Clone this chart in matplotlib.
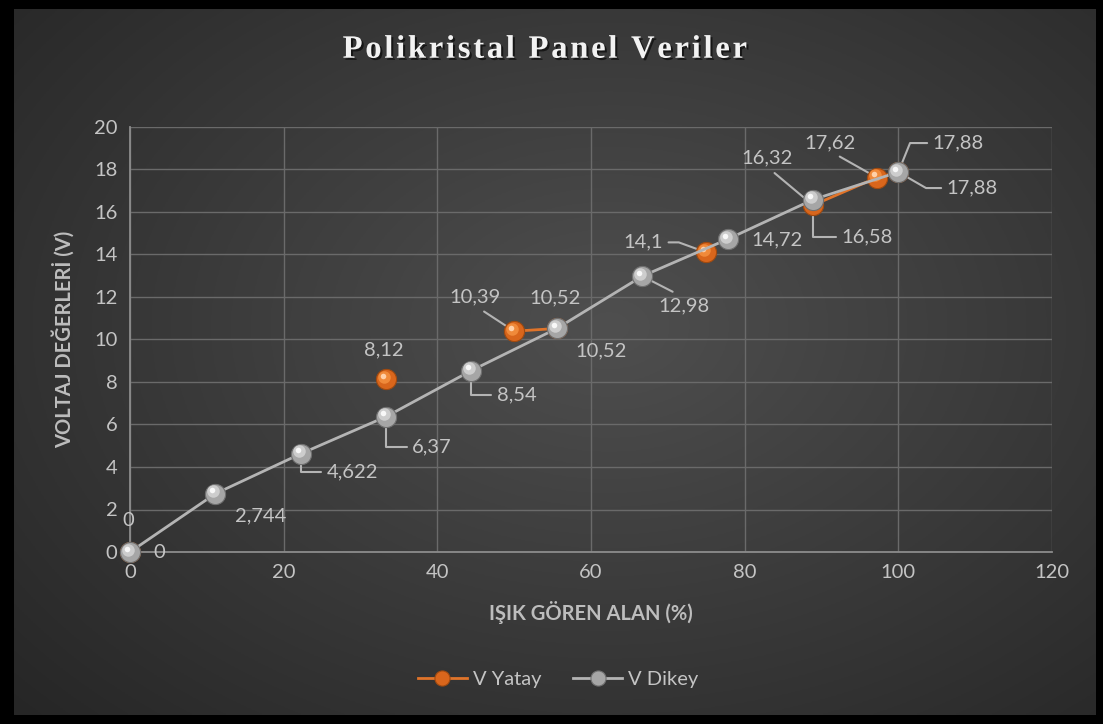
import matplotlib.pyplot as plt
import matplotlib.transforms as mtransforms
import matplotlib.patheffects as pe
import numpy as np

nan = np.nan

# V Dikey (gray)
x_dikey = [0, 11.11, 22.22, 33.33, 44.44, 55.56, 66.67, 77.78, 88.89, 100]
v_dikey = [0, 2.744, 4.622, 6.37, 8.54, 10.52, 12.98, 14.72, 16.58, 17.88]

# V Yatay (orange), gaps where excel had blank cells
x_yatay = [0, nan, 33.33, nan, 50, 55.56, nan, 75, nan, 88.89, 97.22, 100]
v_yatay = [0, nan, 8.12, nan, 10.39, 10.52, nan, 14.1, nan, 16.32, 17.62, 17.88]

x_ticks = [0, 20, 40, 60, 80, 100, 120]
y_ticks = [0, 2, 4, 6, 8, 10, 12, 14, 16, 18, 20]

plt.rcParams['font.family'] = ['Lato', 'DejaVu Sans']
txt_col = '#c4c4c4'
fs = 14.5

fig = plt.figure(figsize=(11.03, 7.24), dpi=100, facecolor='black')

# background with radial gradient
bg = fig.add_axes([14/1103, 9/724, 1082/1103, 706/724])
bg.axis('off')
gx, gy = np.meshgrid(np.linspace(0, 1, 400), np.linspace(0, 1, 300))
r = np.sqrt(((gx - 0.55) / 0.75)**2 + ((gy - 0.45) / 0.8)**2)
r = np.clip(r, 0, 1)
shade = 0.31 - 0.16 * r
bg.imshow(np.dstack([shade, shade, shade]), aspect='auto', extent=[0, 1, 0, 1], origin='upper')
bg.set_xlim(0, 1)
bg.set_ylim(0, 1)

ax = fig.add_axes([130/1103, 172/724, 922/1103, 425/724])
ax.patch.set_alpha(0)
ax.set_xlim(0, 120)
ax.set_ylim(0, 20)
ax.set_xticks(x_ticks)
ax.set_yticks(y_ticks)
ax.grid(True, color='#6a6a6a', linewidth=1)
ax.set_axisbelow(True)
for s in ['top', 'right']:
    ax.spines[s].set_visible(False)
for s in ['left', 'bottom']:
    ax.spines[s].set_color('#8c8c8c')
    ax.spines[s].set_linewidth(1.3)
ax.tick_params(length=0, colors=txt_col, labelsize=fs, pad=9)

ax.set_xlabel('IŞIK GÖREN ALAN (%)', color='#bdbdbd', fontsize=fs, fontweight='bold', labelpad=14)
ax.set_ylabel('VOLTAJ DEĞERLERİ (V)', color='#bdbdbd', fontsize=fs, fontweight='bold', labelpad=14)

hl = ax.transData + mtransforms.ScaledTranslation(-2/100, 2.5/100, fig.dpi_scale_trans)
hl2 = ax.transData + mtransforms.ScaledTranslation(-3/100, 3.5/100, fig.dpi_scale_trans)

# orange series
l_y, = ax.plot(x_yatay, v_yatay, color='#e0742a', lw=2, marker='o', ms=14.5,
               mfc='#d9661c', mec='#a04a10', mew=0.8, zorder=4, label='V Yatay', clip_on=False)
ax.plot(x_yatay, v_yatay, ls='none', marker='o', ms=9, mfc='#f08a3a', mec='none',
        transform=hl, zorder=4.1, clip_on=False)
ax.plot(x_yatay, v_yatay, ls='none', marker='o', ms=4, mfc='#ffd0a8', mec='none',
        transform=hl2, zorder=4.2, clip_on=False)

# gray series
l_d, = ax.plot(x_dikey, v_dikey, color='#b4b4b4', lw=2, marker='o', ms=14.5,
               mfc='#a6a6a6', mec='#707070', mew=0.8, zorder=5, label='V Dikey', clip_on=False)
ax.plot(x_dikey, v_dikey, ls='none', marker='o', ms=9, mfc='#cdcdcd', mec='none',
        transform=hl, zorder=5.1, clip_on=False)
ax.plot(x_dikey, v_dikey, ls='none', marker='o', ms=4, mfc='#f8f8f8', mec='none',
        transform=hl2, zorder=5.2, clip_on=False)


def lab(v):
    return f'{v:g}'.replace('.', ',')


line_kw = dict(arrowstyle='-', color='#b4b4b4', lw=1.5, shrinkA=2, shrinkB=7)

# data labels for V Dikey: (offset px, leader)
dikey_off = [(29, 0), (45, -22), (52, -18), (46, -30), (45, -24),
             (44, -22), (42, -30), (49, -1), (54, -37), (74, -16)]
dikey_lead = [None, None, 'L', 'L', 'L', None, 'S', None, 'L', 'D']

for xv, yv, off, ld in zip(x_dikey, v_dikey, dikey_off, dikey_lead):
    ap = None
    if ld == 'L':
        ap = dict(line_kw, relpos=(0, 0.5), connectionstyle='angle,angleA=0,angleB=90,rad=0')
    elif ld == 'S':
        ap = dict(line_kw, relpos=(0.5, 1), shrinkA=5)
    elif ld == 'D':
        ap = dict(line_kw, relpos=(0, 0.5), connectionstyle='angle,angleA=0,angleB=-30,rad=0')
    ax.annotate(lab(yv), (xv, yv), xytext=off, textcoords='offset pixels',
                ha='center', va='center', color=txt_col, fontsize=fs,
                arrowprops=ap, zorder=3, annotation_clip=False)

yatay_pts = [(xv, yv) for xv, yv in zip(x_yatay, v_yatay) if not np.isnan(xv)]
yatay_off = [(-2, 32), (-2, 30), (-39, 34), (-2, 31), (-63, 10), (-46, 47), (-47, 35), (60, 29)]
yatay_lead = [None, None, 'S', None, 'R', 'S', 'S', 'U']

for (xv, yv), off, ld in zip(yatay_pts, yatay_off, yatay_lead):
    ap = None
    if ld == 'S':
        ap = dict(line_kw, relpos=(0.5, 0), shrinkA=4)
    elif ld == 'R':
        ap = dict(line_kw, relpos=(1, 0.5), connectionstyle='angle,angleA=0,angleB=-20,rad=0')
    elif ld == 'U':
        ap = dict(line_kw, relpos=(0, 0.5), connectionstyle='angle,angleA=0,angleB=68,rad=0')
    ax.annotate(lab(yv), (xv, yv), xytext=off, textcoords='offset pixels',
                ha='center', va='center', color=txt_col, fontsize=fs,
                arrowprops=ap, zorder=3, annotation_clip=False)

# title with some letter spacing like the excel chart
title = '\u200a'.join('Polikristal Panel Veriler')
fig.text(0.494, 0.932, title, ha='center', va='center',
         family=['Liberation Serif', 'DejaVu Serif'], fontweight='bold', fontsize=23.5, color='#f2f2f2',
         path_effects=[pe.withSimplePatchShadow(offset=(1.5, -1.5), shadow_rgbFace='black', alpha=0.6)])

leg = fig.legend(handles=[l_y, l_d], loc='center', bbox_to_anchor=(0.506, 0.061),
                 ncol=2, frameon=False, fontsize=fs, markerscale=0.75,
                 handlelength=2.4, columnspacing=1.6, handletextpad=0.3)
for t in leg.get_texts():
    t.set_color(txt_col)

fig.savefig('out.png', dpi=100, facecolor='black')
